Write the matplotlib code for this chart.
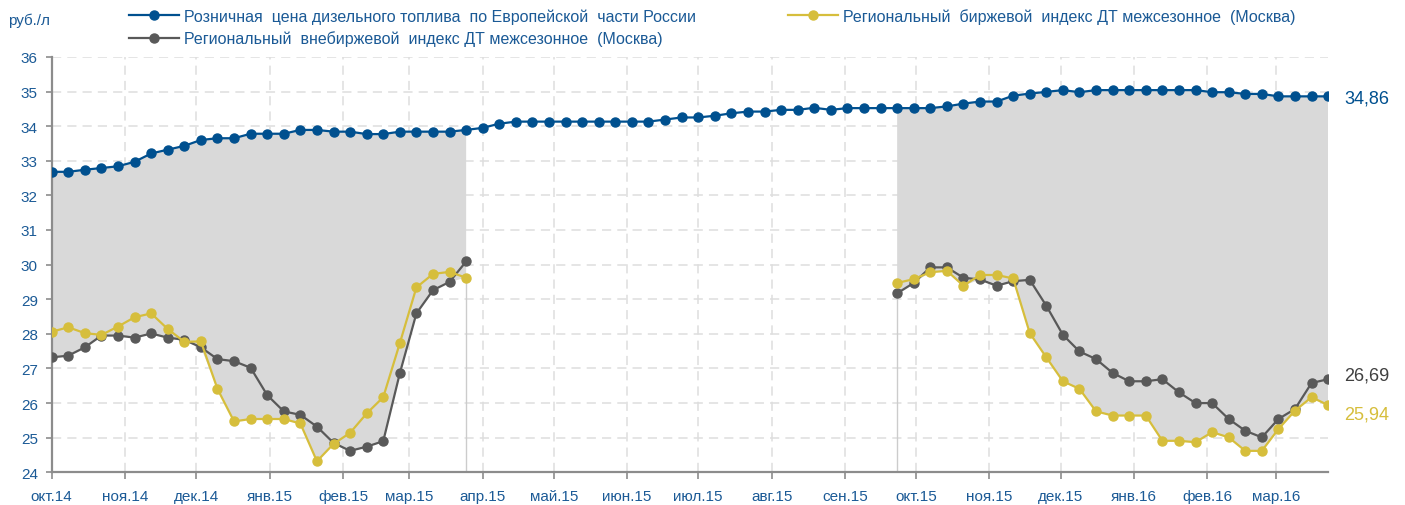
import numpy as np
import pandas as pd
import matplotlib
matplotlib.use('Agg')
import matplotlib.pyplot as plt
import matplotlib.dates as mdates

# ------------------------------------------------------------
# Data (weekly)
# ------------------------------------------------------------
weeks = pd.date_range('2014-10-01', periods=78, freq='7D')

retail_price = [
    32.68, 32.68, 32.74, 32.79, 32.84, 32.97, 33.21, 33.32, 33.43, 33.60,
    33.65, 33.65, 33.78, 33.78, 33.78, 33.89, 33.89, 33.84, 33.84, 33.77,
    33.77, 33.84, 33.84, 33.84, 33.84, 33.89, 33.95, 34.07, 34.13, 34.13,
    34.13, 34.13, 34.13, 34.13, 34.13, 34.13, 34.13, 34.19, 34.25, 34.25,
    34.30, 34.37, 34.42, 34.42, 34.47, 34.47, 34.53, 34.47, 34.52, 34.52,
    34.52, 34.52, 34.52, 34.52, 34.57, 34.65, 34.71, 34.71, 34.88, 34.94,
    34.99, 35.04, 34.98, 35.04, 35.04, 35.04, 35.04, 35.04, 35.04, 35.04,
    34.98, 34.98, 34.93, 34.93, 34.86, 34.86, 34.86, 34.86,
]

# exchange index: winter season 2014/15 (weeks 0-25) and 2015/16 (weeks 51-77)
exchange_s1 = [
    28.06, 28.19, 28.02, 27.97, 28.21, 28.48, 28.59, 28.14, 27.77, 27.78,
    26.41, 25.47, 25.54, 25.54, 25.54, 25.41, 24.32, 24.82, 25.14, 25.70,
    26.17, 27.73, 29.34, 29.73, 29.79, 29.62,
]
exchange_s2 = [
    29.47, 29.58, 29.78, 29.82, 29.39, 29.70, 29.70, 29.60, 28.02, 27.32,
    26.63, 26.41, 25.76, 25.64, 25.64, 25.64, 24.91, 24.91, 24.87, 25.16,
    25.01, 24.62, 24.62, 25.25, 25.78, 26.17, 25.94,
]
# off-exchange index
otc_s1 = [
    27.32, 27.37, 27.61, 27.95, 27.95, 27.89, 28.01, 27.89, 27.83, 27.61,
    27.27, 27.21, 27.02, 26.23, 25.76, 25.66, 25.32, 24.85, 24.62, 24.74,
    24.90, 26.86, 28.59, 29.26, 29.50, 30.09,
]
otc_s2 = [
    29.17, 29.47, 29.92, 29.92, 29.62, 29.57, 29.39, 29.52, 29.56, 28.81,
    27.97, 27.49, 27.27, 26.87, 26.63, 26.63, 26.69, 26.31, 26.00, 26.00,
    25.54, 25.20, 25.01, 25.54, 25.83, 26.58, 26.69,
]

month_labels = ['окт.14', 'ноя.14', 'дек.14', 'янв.15', 'фев.15', 'мар.15',
                'апр.15', 'май.15', 'июн.15', 'июл.15', 'авг.15', 'сен.15',
                'окт.15', 'ноя.15', 'дек.15', 'янв.16', 'фев.16', 'мар.16']

label_retail = 'Розничная  цена дизельного топлива  по Европейской  части России'
label_otc = 'Региональный  внебиржевой  индекс ДТ межсезонное  (Москва)'
label_exchange = 'Региональный  биржевой  индекс ДТ межсезонное  (Москва)'

# ------------------------------------------------------------
# Style
# ------------------------------------------------------------
BLUE = '#00508F'
YELLOW = '#D6BE3C'
GREY = '#595959'
FILL = '#D9D9D9'
TEXT_BLUE = '#1B5A96'
AXIS = '#8C8C8C'

plt.rcParams['font.family'] = ['Liberation Sans', 'DejaVu Sans']


def pad_series(s1, s2, n):
    """Put the two seasonal segments onto the full weekly grid (gap = NaN)."""
    out = np.full(n, np.nan)
    out[:len(s1)] = s1
    out[n - len(s2):] = s2
    return out


n = len(weeks)
retail = np.array(retail_price)
exchange = pad_series(exchange_s1, exchange_s2, n)
otc = pad_series(otc_s1, otc_s2, n)
lower = np.fmin(exchange, otc)
x = mdates.date2num(weeks)

fig = plt.figure(figsize=(14.05, 5.06), dpi=100)
ax = fig.add_axes([0.0368, 0.0646, 0.9085, 0.821])

# shaded spread between retail price and lowest index
ax.fill_between(x, retail, lower, where=~np.isnan(lower), color=FILL,
                linewidth=0, zorder=1)

# thin edges where the seasonal segments start / end
seg_ends = [len(exchange_s1) - 1, n - len(exchange_s2)]
for i in seg_ends:
    ax.plot([x[i], x[i]], [24, lower[i]], color='#CCCCCC', lw=1.0, zorder=1)

mk = dict(marker='o', markersize=6.5, linewidth=1.6, zorder=3)
ax.plot(x, retail, color=BLUE, label=label_retail, **mk)
ax.plot(x, otc, color=GREY, label=label_otc, **mk)
ax.plot(x, exchange, color=YELLOW, label=label_exchange, **mk)

# end labels
end_labels = [(retail[-1], BLUE, -2), (otc[-1], '#404040', 4), (exchange[-1], YELLOW, -9)]
for val, col, dy in end_labels:
    ax.annotate(f'{val:.2f}'.replace('.', ','), xy=(x[-1], val),
                xytext=(16, dy), textcoords='offset pixels',
                ha='left', va='center', fontsize=13, color=col)

# axes
ax.set_xlim(x[0], x[-1])
ax.set_ylim(24, 36)
ax.set_yticks(range(24, 37))
ax.tick_params(axis='y', labelsize=11, labelcolor=TEXT_BLUE, color=AXIS,
               length=4, width=1.2, pad=6)

month_ticks = mdates.date2num(pd.date_range('2014-10-01', '2016-03-01', freq='MS'))
ax.set_xticks(month_ticks)
ax.set_xticklabels(month_labels)
ax.tick_params(axis='x', labelsize=11, labelcolor=TEXT_BLUE, color=AXIS,
               length=5, width=1.2, pad=7)

for side in ['top', 'right']:
    ax.spines[side].set_visible(False)
for side in ['left', 'bottom']:
    ax.spines[side].set_color(AXIS)
    ax.spines[side].set_linewidth(1.6)

ax.set_axisbelow(True)
ax.grid(True, color='#DEDEDE', linestyle=(0, (6, 4)), linewidth=1.1, zorder=0)

fig.text(0.006, 0.958, 'руб./л', fontsize=11, color=TEXT_BLUE,
         ha='left', va='center')

leg = fig.legend(loc='upper left', bbox_to_anchor=(0.092, 0.982), ncol=2,
                 frameon=False, fontsize=11.5, handlelength=3.1,
                 handletextpad=0.3, columnspacing=5.8, labelspacing=0.4,
                 borderpad=0, borderaxespad=0)
for t in leg.get_texts():
    t.set_color(TEXT_BLUE)

fig.savefig('out.png', dpi=100)
